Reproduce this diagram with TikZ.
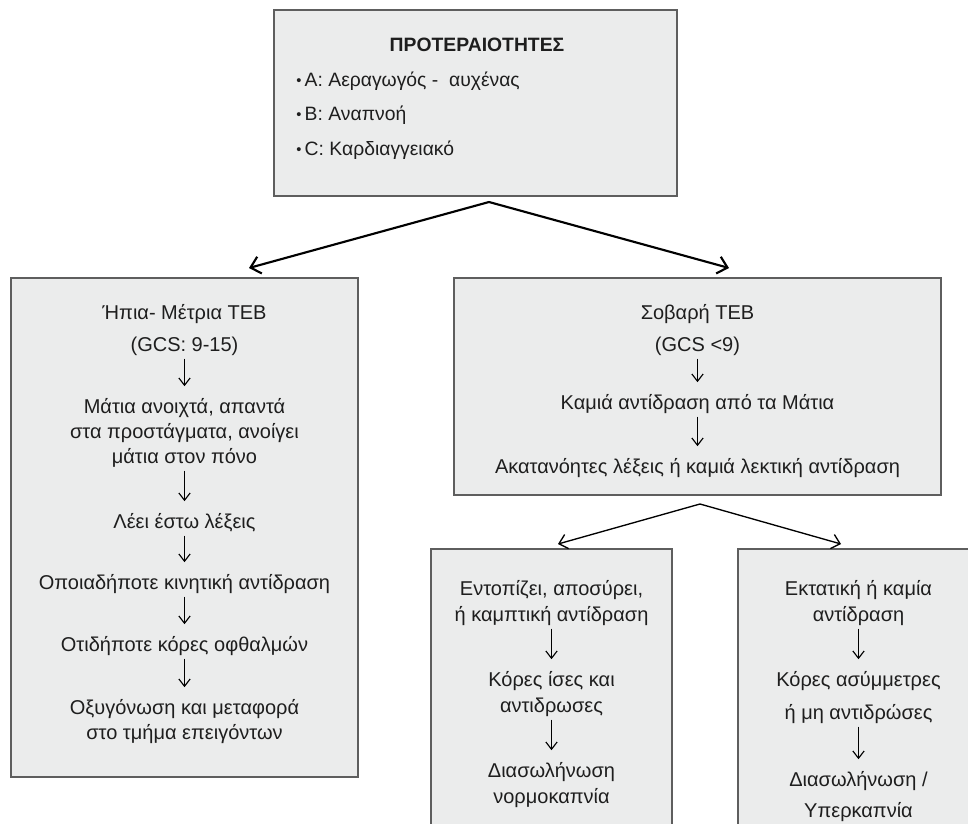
\documentclass[tikz,border=0pt]{standalone}
\usepackage{fontspec}
\setmainfont{Liberation Sans}
\usetikzlibrary{arrows.meta}
\definecolor{boxfill}{HTML}{EBECEC}
\definecolor{boxline}{HTML}{5E5E5E}
\definecolor{ink}{HTML}{1E1E1E}
\newcommand\lnstrut{\rule[-5.6pt]{0pt}{18.7pt}}
\newcommand\blt{\raisebox{1.2pt}{\fontsize{11}{11}\selectfont •}\hspace{2.5pt}}
\begin{document}
\begin{tikzpicture}[x=0.75pt,y=-0.75pt,
  panel/.style={draw=boxline, fill=boxfill, line width=1.5pt, rectangle, inner sep=0pt},
  txt/.style={text=ink, font=\fontsize{15}{18.75}\selectfont, align=center, inner sep=0pt},
  bigarrow/.style={line width=1.6pt, -{Straight Barb[length=7pt,width=13pt,line width=1.6pt]}},
  midarrow/.style={line width=1pt, -{Straight Barb[length=6pt,width=11pt,line width=1pt]}},
  downarrow/.style={line width=0.85pt, -{Straight Barb[length=5.5pt,width=8.5pt,line width=0.85pt]}, shorten <=0pt, shorten >=6.8pt}
]
\useasboundingbox (0,0) rectangle (968,824);
\clip (0,0) rectangle (968,824);

% panels
\node[panel, minimum width=302.25pt, minimum height=139.5pt] (top) at (475.5,103) {};
\node[panel, minimum width=260.25pt, minimum height=374.25pt] (lbox) at (184.5,527.5) {};
\node[panel, minimum width=365.25pt, minimum height=162.75pt] (rbox) at (697.5,386.5) {};
\node[panel, minimum width=180.75pt, minimum height=263.25pt] (blbox) at (551.5,724.5) {};
\node[panel, minimum width=181.5pt, minimum height=263.25pt] (brbox) at (859,724.5) {};

% top panel text
\node[txt, font=\fontsize{14.5}{18.75}\selectfont\bfseries] (title) at (477,45) {ΠΡΟΤΕΡΑΙΟΤΗΤΕΣ};
\node[txt, anchor=west, font=\fontsize{14.5}{18.75}\selectfont] (pa) at (296,82) {\lnstrut\blt A: Αεραγωγός -\ \ αυχένας};
\node[txt, anchor=west, font=\fontsize{14.5}{18.75}\selectfont] (pb) at (296,116) {\lnstrut\blt B: Αναπνοή};
\node[txt, anchor=west, font=\fontsize{14.5}{18.75}\selectfont] (pc) at (296,151) {\lnstrut\blt C: Καρδιαγγειακό};

% left panel text
\node[txt, font=\fontsize{15}{24}\selectfont] (l1) at (184.5,330) {\lnstrut Ήπια- Μέτρια ΤΕΒ\\\lnstrut(GCS: 9-15)};
\node[txt] (l2) at (184.5,433) {\lnstrut Μάτια ανοιχτά, απαντά\\\lnstrut στα προστάγματα, ανοίγει\\\lnstrut μάτια στον πόνο};
\node[txt] (l3) at (184.5,523) {\lnstrut Λέει έστω λέξεις};
\node[txt] (l4) at (184.5,584) {\lnstrut Οποιαδήποτε κινητική αντίδραση};
\node[txt] (l5) at (184.5,646) {\lnstrut Οτιδήποτε κόρες οφθαλμών};
\node[txt] (l6) at (184.5,721.5) {\lnstrut Οξυγόνωση και μεταφορά\\\lnstrut στο τμήμα επειγόντων};

% right panel text
\node[txt, font=\fontsize{15}{24}\selectfont] (r1) at (697.5,330) {\lnstrut Σοβαρή ΤΕΒ\\\lnstrut(GCS <9)};
\node[txt] (r2) at (697.5,404) {\lnstrut Καμιά αντίδραση από τα Μάτια};
\node[txt] (r3) at (697.5,468) {\lnstrut Ακατανόητες λέξεις ή καμιά λεκτική αντίδραση};

% bottom-left panel text
\node[txt, font=\fontsize{15}{19.5}\selectfont] (bl1) at (551.5,603) {\lnstrut Εντοπίζει, αποσύρει,\\\lnstrut ή καμπτική αντίδραση};
\node[txt, font=\fontsize{15}{19.5}\selectfont] (bl2) at (551.5,694) {\lnstrut Κόρες ίσες και\\\lnstrut αντιδρωσες};
\node[txt, font=\fontsize{15}{19.5}\selectfont] (bl3) at (551.5,785) {\lnstrut Διασωλήνωση\\\lnstrut νορμοκαπνία};

% bottom-right panel text
\node[txt, font=\fontsize{15}{19.5}\selectfont] (br1) at (858.5,603) {\lnstrut Εκτατική ή καμία\\\lnstrut αντίδραση};
\node[txt, font=\fontsize{15}{24.75}\selectfont] (br2) at (858.5,697.5) {\lnstrut Κόρες ασύμμετρες\\\lnstrut ή μη αντιδρώσες};
\node[txt, font=\fontsize{15}{23.25}\selectfont] (br3) at (858.5,796.5) {\lnstrut Διασωλήνωση /\\\lnstrut Υπερκαπνία};

% branch arrows
\coordinate (s1) at (489,202);
\coordinate (t1l) at (249,268);
\coordinate (t1r) at (729,268);
\draw[bigarrow] (s1) -- (t1l);
\draw[bigarrow] (s1) -- (t1r);
\coordinate (s2) at (700,504);
\coordinate (t2l) at (558,544);
\coordinate (t2r) at (841,544);
\draw[midarrow] (s2) -- (t2l);
\draw[midarrow] (s2) -- (t2r);

% inner arrows
\draw[downarrow] (l1) -- (l2);
\draw[downarrow] (l2) -- (l3);
\draw[downarrow] (l3) -- (l4);
\draw[downarrow] (l4) -- (l5);
\draw[downarrow] (l5) -- (l6);
\draw[downarrow] (r1) -- (r2);
\draw[downarrow] (r2) -- (r3);
\draw[downarrow] (bl1) -- (bl2);
\draw[downarrow] (bl2) -- (bl3);
\draw[downarrow] (br1) -- (br2);
\draw[downarrow] (br2) -- (br3);
\end{tikzpicture}
\end{document}
